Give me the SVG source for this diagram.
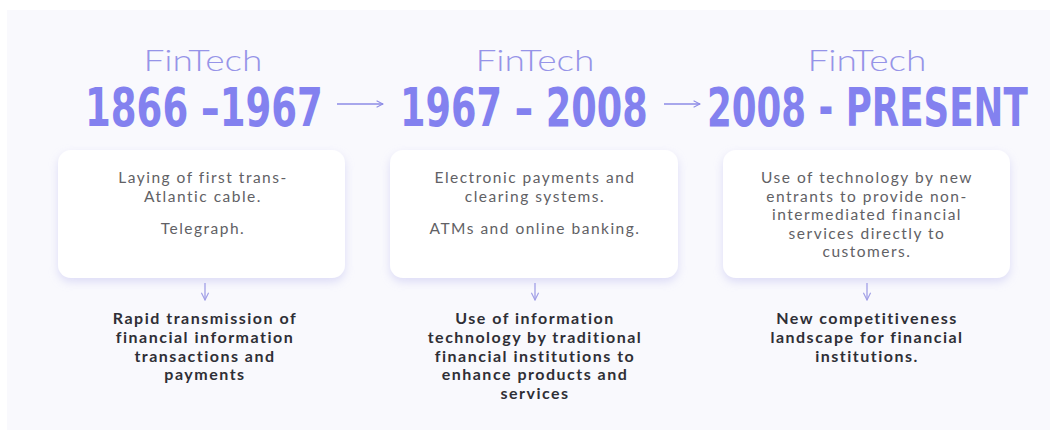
<svg xmlns="http://www.w3.org/2000/svg" width="1050" height="430" viewBox="0 0 1050 430">
  <defs>
    <filter id="shadow" x="-10%" y="-15%" width="120%" height="140%">
      <feDropShadow dx="0" dy="4" stdDeviation="5" flood-color="#b9b8ee" flood-opacity="0.45"/>
    </filter>
    <marker id="head" viewBox="0 0 10 10" refX="9" refY="5" markerWidth="8" markerHeight="8" markerUnits="userSpaceOnUse" orient="auto">
      <path d="M1,1 L9,5 L1,9" fill="none" stroke="#8d8be6" stroke-width="1.3"/>
    </marker>
    <marker id="dhead" viewBox="0 0 10 10" refX="9" refY="5" markerWidth="9" markerHeight="9" markerUnits="userSpaceOnUse" orient="auto">
      <path d="M1,1 L9,5 L1,9" fill="none" stroke="#a19fe6" stroke-width="1.3"/>
    </marker>
    <style>
      .fin { font-family: "Lato", "Open Sans", sans-serif; font-weight: 300; font-size: 30px; fill: #9694e8; text-anchor: middle; }
      .year { font-family: "Liberation Sans Narrow", "DejaVu Sans Condensed", "Roboto", sans-serif; font-stretch: condensed; font-weight: 700; font-size: 53px; fill: #8381ef; }
      .card { fill: #ffffff; filter: url(#shadow); }
      .ctext { font-family: "Lato", "Open Sans", sans-serif; font-size: 15.5px; letter-spacing: 1.5px; fill: #616165; text-anchor: middle; }
      .btext { font-family: "Lato", "Open Sans", sans-serif; font-weight: 700; font-size: 16px; letter-spacing: 1.5px; fill: #2f2f36; text-anchor: middle; }
      .conn { stroke: #8d8be6; stroke-width: 1.3; fill: none; }
      .dconn { stroke: #a19fe6; stroke-width: 1.3; fill: none; }
    </style>
  </defs>

  <rect x="0" y="0" width="1050" height="430" fill="#ffffff"/>
  <rect x="7" y="10" width="1043" height="420" fill="#f9f9fd"/>

  <g id="era1">
    <text class="fin" x="203" y="71" textLength="119" lengthAdjust="spacingAndGlyphs">FinTech</text>
    <text class="year" transform="translate(85,126) scale(0.76,1)" x="0" y="0" textLength="313" lengthAdjust="spacingAndGlyphs">1866 –1967</text>
    <rect class="card" x="58" y="150" width="287" height="128" rx="13"/>
    <text class="ctext" x="203" y="183">Laying of first trans-</text>
    <text class="ctext" x="203" y="202">Atlantic cable.</text>
    <text class="ctext" x="203" y="234">Telegraph.</text>
    <text class="btext" x="205" y="324">Rapid transmission of</text>
    <text class="btext" x="205" y="343">financial information</text>
    <text class="btext" x="205" y="362">transactions and</text>
    <text class="btext" x="205" y="380">payments</text>
  </g>

  <g id="era2">
    <text class="fin" x="535" y="71" textLength="119" lengthAdjust="spacingAndGlyphs">FinTech</text>
    <text class="year" transform="translate(400,126) scale(0.76,1)" x="0" y="0" textLength="326" lengthAdjust="spacingAndGlyphs">1967 – 2008</text>
    <rect class="card" x="390" y="150" width="288" height="128" rx="13"/>
    <text class="ctext" x="535" y="183">Electronic payments and</text>
    <text class="ctext" x="535" y="202">clearing systems.</text>
    <text class="ctext" x="535" y="234">ATMs and online banking.</text>
    <text class="btext" x="535" y="324">Use of information</text>
    <text class="btext" x="535" y="343">technology by traditional</text>
    <text class="btext" x="535" y="362">financial institutions to</text>
    <text class="btext" x="535" y="380">enhance products and</text>
    <text class="btext" x="535" y="399">services</text>
  </g>

  <g id="era3">
    <text class="fin" x="867" y="71" textLength="119" lengthAdjust="spacingAndGlyphs">FinTech</text>
    <text class="year" transform="translate(707,126) scale(0.76,1)" x="0" y="0" textLength="422" lengthAdjust="spacingAndGlyphs">2008 - PRESENT</text>
    <rect class="card" x="723" y="150" width="287" height="128" rx="13"/>
    <text class="ctext" x="867" y="183">Use of technology by new</text>
    <text class="ctext" x="867" y="202">entrants to provide non-</text>
    <text class="ctext" x="867" y="220">intermediated financial</text>
    <text class="ctext" x="867" y="239">services directly to</text>
    <text class="ctext" x="867" y="257">customers.</text>
    <text class="btext" x="867" y="324">New competitiveness</text>
    <text class="btext" x="867" y="343">landscape for financial</text>
    <text class="btext" x="867" y="362">institutions.</text>
  </g>

  <g id="connectors">
    <line class="conn" x1="337" y1="104" x2="383" y2="104" marker-end="url(#head)"/>
    <line class="conn" x1="664" y1="104" x2="700" y2="104" marker-end="url(#head)"/>
    <line class="dconn" x1="205" y1="283" x2="205" y2="300" marker-end="url(#dhead)"/>
    <line class="dconn" x1="535" y1="283" x2="535" y2="300" marker-end="url(#dhead)"/>
    <line class="dconn" x1="867" y1="283" x2="867" y2="300" marker-end="url(#dhead)"/>
  </g>
</svg>
